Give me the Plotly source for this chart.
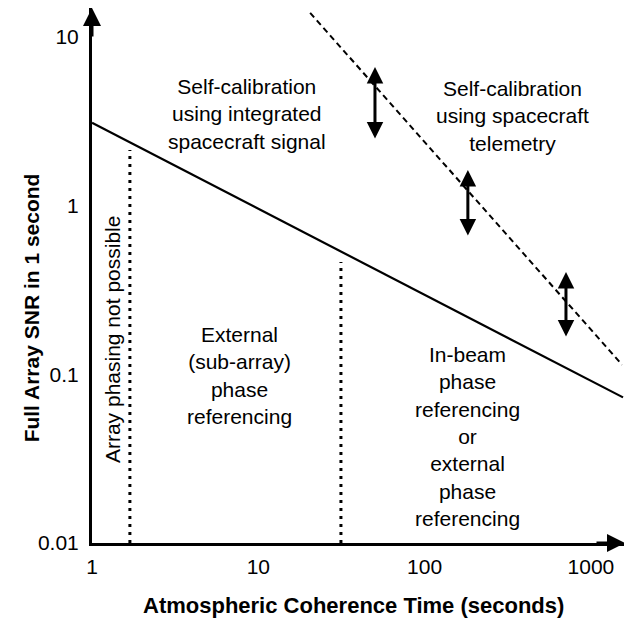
import plotly.graph_objects as go
import numpy as np

# ---- data ----
solid_x = [1, 1560]
solid_y = [3.1, 0.073]
dashed_x = [20.5, 1540]
dashed_y = [13.9, 0.114]
dotted1_x = [1.69, 1.69]
dotted1_y = [0.01, 2.14]
dotted2_x = [31.4, 31.4]
dotted2_y = [0.01, 0.463]
arrow_x = [50.3, 182, 708]
arrow_top = [6.64, 1.63, 0.405]
arrow_bottom = [2.45, 0.652, 0.164]

x_ticks = [1, 10, 100, 1000]
x_ticktext = ["1", "10", "100", "1000"]
y_ticks = [0.01, 0.1, 1, 10]
y_ticktext = ["0.01", "0.1", "1", "10"]

region_labels = [
    "Self-calibration<br>using integrated<br>spacecraft signal",
    "Self-calibration<br>using spacecraft<br>telemetry",
    "External<br>(sub-array)<br>phase<br>referencing",
    "In-beam<br>phase<br>referencing<br>or<br>external<br>phase<br>referencing",
]
region_x = [8.55, 340, 7.76, 182]
region_y = [3.5, 3.4, 0.098, 0.0426]
vertical_label = "Array phasing not possible"
vertical_label_x = 1.34
vertical_label_y = 0.16
x_title = "Atmospheric Coherence Time (seconds)"
y_title = "Full Array SNR in 1 second"

FONT = "Liberation Sans, Arial, Helvetica, sans-serif"

fig = go.Figure()
fig.add_trace(go.Scatter(x=solid_x, y=solid_y, mode="lines",
                         line=dict(color="black", width=2.2), showlegend=False))
fig.add_trace(go.Scatter(x=dashed_x, y=dashed_y, mode="lines",
                         line=dict(color="black", width=2, dash="6px,4px"), showlegend=False))
fig.add_trace(go.Scatter(x=dotted1_x, y=dotted1_y, mode="lines",
                         line=dict(color="black", width=3, dash="3px,5px"), showlegend=False))
fig.add_trace(go.Scatter(x=dotted2_x, y=dotted2_y, mode="lines",
                         line=dict(color="black", width=3, dash="3px,5px"), showlegend=False))

annotations = []
for xa, yt, yb in zip(arrow_x, arrow_top, arrow_bottom):
    annotations.append(dict(
        x=np.log10(xa), y=np.log10(yt), ax=np.log10(xa), ay=np.log10(yb),
        xref="x", yref="y", axref="x", ayref="y", text="", showarrow=True,
        arrowhead=2, startarrowhead=2, arrowside="end+start",
        arrowsize=1.1, startarrowsize=1.1, arrowwidth=3, arrowcolor="black"))

for t, xv, yv in zip(region_labels, region_x, region_y):
    annotations.append(dict(x=np.log10(xv), y=np.log10(yv), xref="x", yref="y",
                            text=t, showarrow=False, align="center",
                            xanchor="center", yanchor="middle",
                            font=dict(family=FONT, size=21, color="black")))
annotations.append(dict(x=np.log10(vertical_label_x), y=np.log10(vertical_label_y),
                        xref="x", yref="y", text=vertical_label, showarrow=False,
                        xanchor="center", yanchor="middle",
                        textangle=-90, font=dict(family=FONT, size=21, color="black")))

# axis arrowheads
annotations.append(dict(x=0, y=1, xref="x domain", yref="y domain", ax=0, ay=30,
                        text="", showarrow=True, arrowhead=2, arrowsize=1.2,
                        arrowwidth=3, arrowcolor="black"))
annotations.append(dict(x=1, y=0, xref="x domain", yref="y domain", ax=-30, ay=0,
                        text="", showarrow=True, arrowhead=2, arrowsize=1.2,
                        arrowwidth=3, arrowcolor="black"))

# axis titles
annotations.append(dict(x=0.49, y=-0.116, xref="x domain", yref="y domain",
                        xanchor="center", yanchor="middle",
                        text="<b>" + x_title + "</b>", showarrow=False,
                        font=dict(family=FONT, size=22, color="black")))
annotations.append(dict(x=-0.113, y=0.44, xref="x domain", yref="y domain",
                        xanchor="center", yanchor="middle",
                        text="<b>" + y_title + "</b>", showarrow=False, textangle=-90,
                        font=dict(family=FONT, size=21, color="black")))

fig.update_layout(
    width=624, height=615,
    margin=dict(l=84, r=7, t=0, b=80),
    paper_bgcolor="white", plot_bgcolor="white",
    showlegend=False,
    annotations=annotations,
    xaxis=dict(type="log", range=[0, 3.205], showgrid=False, zeroline=False,
               showline=True, linewidth=3, linecolor="black",
               tickvals=x_ticks, ticktext=x_ticktext, ticks="",
               ticklabelstandoff=3,
               tickfont=dict(family=FONT, size=21, color="black")),
    yaxis=dict(type="log", range=[-2, 1.172], showgrid=False, zeroline=False,
               showline=True, linewidth=3, linecolor="black",
               tickvals=y_ticks, ticktext=y_ticktext, ticks="",
               ticklabelstandoff=6,
               tickfont=dict(family=FONT, size=21, color="black")),
)

fig.write_html("out.html")
